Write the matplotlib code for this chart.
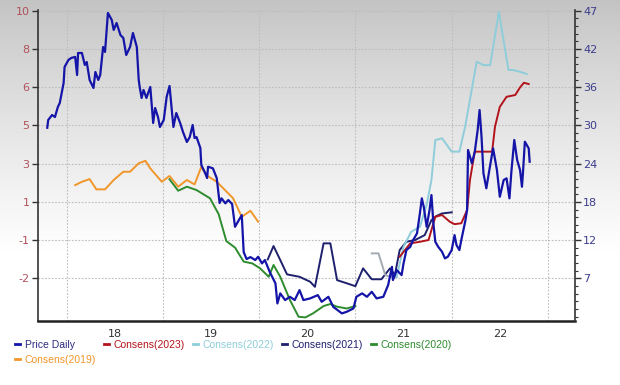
import numpy as np
import matplotlib
matplotlib.use("Agg")
import matplotlib.pyplot as plt
from matplotlib.lines import Line2D
from matplotlib.ticker import FixedLocator, AutoMinorLocator

# values (x in decimal years)
price_x = [2017.80, 2017.81, 2017.85, 2017.88, 2017.91, 2017.93, 2017.97, 2017.98, 2018.02, 2018.05,
           2018.09, 2018.11, 2018.12, 2018.16, 2018.19, 2018.21, 2018.24, 2018.28, 2018.30, 2018.33,
           2018.35, 2018.38, 2018.40, 2018.43, 2018.47, 2018.49, 2018.52, 2018.56, 2018.59, 2018.62,
           2018.66, 2018.69, 2018.73, 2018.75, 2018.76, 2018.78, 2018.80, 2018.83, 2018.87, 2018.90,
           2018.92, 2018.95, 2018.97, 2019.01, 2019.04, 2019.07, 2019.11, 2019.14, 2019.18, 2019.21,
           2019.25, 2019.28, 2019.31, 2019.33, 2019.35, 2019.39, 2019.40, 2019.44, 2019.46, 2019.47,
           2019.52, 2019.56, 2019.59, 2019.61, 2019.65, 2019.68, 2019.72, 2019.75, 2019.78, 2019.82,
           2019.84, 2019.87, 2019.91, 2019.96, 2019.99, 2020.03, 2020.06, 2020.11, 2020.17, 2020.19,
           2020.22, 2020.27, 2020.32, 2020.37, 2020.42, 2020.46, 2020.53, 2020.61, 2020.65, 2020.72,
           2020.77, 2020.86, 2020.91, 2020.98, 2021.01, 2021.07, 2021.12, 2021.17, 2021.22, 2021.29,
           2021.34, 2021.38, 2021.39, 2021.43, 2021.48, 2021.50, 2021.53, 2021.57, 2021.60, 2021.64,
           2021.67, 2021.69, 2021.71, 2021.74, 2021.77, 2021.79, 2021.81, 2021.83, 2021.86, 2021.90,
           2021.93, 2021.96, 2022.00, 2022.03, 2022.05, 2022.08, 2022.10, 2022.14, 2022.16, 2022.17,
           2022.21, 2022.24, 2022.27, 2022.29, 2022.31, 2022.33, 2022.36, 2022.40, 2022.43, 2022.47,
           2022.50, 2022.54, 2022.57, 2022.60, 2022.62, 2022.65, 2022.68, 2022.71, 2022.73, 2022.74,
           2022.76, 2022.80, 2022.81]
price_y = [29.51, 30.67, 31.41, 31.11, 32.61, 33.21, 36.20, 38.59, 39.64, 39.94,
           40.09, 37.39, 40.68, 40.68, 38.89, 39.34, 36.65, 35.45, 37.84, 36.65,
           37.39, 41.58, 40.83, 46.66, 45.61, 44.12, 45.16, 43.37, 42.92, 40.38,
           41.58, 43.67, 41.58, 36.65, 35.60, 33.96, 35.15, 33.96, 35.60, 30.22,
           32.46, 31.11, 29.62, 30.67, 34.11, 35.75, 29.62, 31.71, 30.22, 28.87,
           27.38, 28.12, 29.92, 27.97, 28.12, 26.48, 23.94, 22.74, 21.99, 23.68,
           23.45, 21.99, 18.26, 18.96, 18.21, 18.71, 18.11, 14.71, 15.46, 16.46,
           10.93, 9.89, 10.18, 9.74, 10.23, 9.24, 9.74, 7.99, 6.25, 3.26,
           4.76, 3.76, 4.25, 3.76, 5.25, 3.76, 4.01, 4.50, 3.50, 4.25,
           2.75, 1.77, 2.01, 2.51, 4.25, 4.76, 4.25, 5.00, 4.01, 4.25,
           6.00, 8.73, 6.75, 8.24, 7.49, 9.24, 11.23, 11.72, 12.73, 13.73,
           16.72, 18.96, 17.70, 14.71, 17.21, 19.45, 15.22, 12.47, 11.72, 10.98,
           9.99, 10.23, 11.23, 13.47, 11.98, 11.23, 12.73, 15.46, 17.21, 26.18,
           24.19, 25.93, 29.17, 32.16, 28.17, 22.70, 20.46, 23.94, 26.43, 23.19,
           19.20, 21.70, 21.95, 18.96, 22.94, 27.68, 24.69, 23.19, 20.69, 22.70,
           27.42, 26.43, 24.43]

c2023_x = [2021.46, 2021.57, 2021.67, 2021.76, 2021.79, 2021.83, 2021.90, 2021.98, 2022.03, 2022.10,
           2022.16, 2022.19, 2022.24, 2022.42, 2022.45, 2022.50, 2022.57, 2022.66, 2022.71, 2022.75,
           2022.80]
c2023_y = [-1.03, -0.43, -0.36, -0.28, 0.17, 0.76, 0.84, 0.54, 0.43, 0.47,
           1.06, 2.41, 3.68, 3.68, 4.80, 5.69, 6.14, 6.22, 6.56, 6.77,
           6.71]

c2022_early_x = [2021.17, 2021.24, 2021.31, 2021.36, 2021.43]
c2022_early_y = [-0.88, -0.88, -1.85, -1.93, -1.93]
c2022_x = [2021.43, 2021.50, 2021.58, 2021.67, 2021.74, 2021.79, 2021.83, 2021.90, 2022.00, 2022.08,
           2022.14, 2022.26, 2022.33, 2022.40, 2022.49, 2022.59, 2022.64, 2022.71, 2022.78]
c2022_y = [-1.93, -0.58, 0.09, 0.31, 1.29, 2.41, 4.20, 4.28, 3.68, 3.68,
           4.80, 7.71, 7.56, 7.56, 9.95, 7.34, 7.34, 7.26, 7.16]

c2021_x = [2020.09, 2020.15, 2020.22, 2020.29, 2020.42, 2020.53, 2020.58, 2020.67, 2020.74, 2020.81,
           2020.91, 2021.00, 2021.08, 2021.17, 2021.27, 2021.36, 2021.41, 2021.46, 2021.53, 2021.62,
           2021.72, 2021.79, 2021.84, 2021.90, 2022.00]
c2021_y = [-1.15, -0.55, -1.18, -1.82, -1.93, -2.15, -2.38, -0.43, -0.43, -2.08,
           -2.22, -2.35, -1.55, -2.04, -2.04, -1.55, -1.85, -0.73, -0.36, -0.28,
           -0.06, 0.61, 0.79, 0.91, 0.96]

c2020_x = [2019.07, 2019.16, 2019.25, 2019.35, 2019.49, 2019.58, 2019.66, 2019.75, 2019.84, 2019.93,
           2020.01, 2020.10, 2020.15, 2020.22, 2020.32, 2020.41, 2020.48, 2020.56, 2020.67, 2020.74,
           2020.81, 2020.91, 2021.00]
c2020_y = [2.44, 1.93, 2.11, 1.96, 1.59, 0.88, -0.33, -0.62, -1.25, -1.33,
           -1.55, -1.93, -1.40, -1.93, -2.97, -3.72, -3.75, -3.57, -3.24, -3.15,
           -3.27, -3.35, -3.24]

c2019_x = [2018.09, 2018.16, 2018.24, 2018.31, 2018.40, 2018.49, 2018.59, 2018.66, 2018.75, 2018.82,
           2018.87, 2018.99, 2019.07, 2019.16, 2019.25, 2019.33, 2019.40, 2019.45, 2019.56, 2019.73,
           2019.82, 2019.91, 2019.99]
c2019_y = [2.18, 2.33, 2.45, 1.99, 1.99, 2.41, 2.78, 2.78, 3.16, 3.27,
           2.93, 2.33, 2.59, 2.11, 2.41, 2.21, 3.00, 2.63, 2.33, 1.59,
           0.76, 1.03, 0.54]

left_ticks = np.linspace(-2, 10, 8)
left_labels = ['-2', '-1', '1', '3', '5', '6', '8', '10']
right_ticks = np.linspace(7, 47, 8)
right_labels = ['7', '12', '18', '24', '30', '36', '42', '47']
year_edges = [2018, 2019, 2020, 2021, 2022, 2023]
year_mids = [2018.5, 2019.5, 2020.5, 2021.5, 2022.5]
year_labels = ['18', '19', '20', '21', '22']

col_price = '#1414A8'
col_2023 = '#B3141C'
col_2022 = '#8ECDD9'
col_2022_early = '#A3AAB3'
col_2021 = '#1E206E'
col_2020 = '#2E8B2E'
col_2019 = '#F0962A'

fig = plt.figure(figsize=(6.2, 3.85), dpi=100)
fig.patch.set_facecolor('white')

# grey-to-white background gradient
bg = fig.add_axes([0, 0, 1, 1], zorder=-10)
rows = np.arange(385)
shade = 0.765 + 0.235 * np.clip(rows / 250.0, 0, 1) ** 0.85
img = np.repeat(shade[:, None], 620, axis=1)
bg.imshow(np.dstack([img, img, img]), aspect='auto', extent=[0, 1, 0, 1])
bg.axis('off')

ax = fig.add_axes([0.0613, 0.166, 0.866, 0.808], zorder=1)
ax.set_facecolor('none')
ax2 = ax.twinx()
ax2.set_facecolor('none')

ax.plot(c2019_x, c2019_y, color=col_2019, lw=1.4)
ax.plot(c2020_x, c2020_y, color=col_2020, lw=1.4)
ax.plot(c2021_x, c2021_y, color=col_2021, lw=1.4)
ax.plot(c2022_early_x, c2022_early_y, color=col_2022_early, lw=1.4)
ax.plot(c2022_x, c2022_y, color=col_2022, lw=1.4)
ax.plot(c2023_x, c2023_y, color=col_2023, lw=1.4)
ax2.plot(price_x, price_y, color=col_price, lw=1.6)

ax.set_xlim(2017.704, 2023.28)
ax.set_ylim(-3.915, 10.03)
ax2.set_ylim(0.62, 47.1)

ax.yaxis.set_major_locator(FixedLocator(left_ticks))
ax.set_yticklabels(left_labels)
ax2.yaxis.set_major_locator(FixedLocator(right_ticks))
ax2.set_yticklabels(right_labels)
ax2.yaxis.set_minor_locator(AutoMinorLocator(5))

ax.set_xticks(year_edges)
ax.set_xticklabels([])
ax.set_xticks(year_mids, minor=True)
ax.set_xticklabels(year_labels, minor=True)
ax.tick_params(axis='x', which='both', length=0, pad=6, labelsize=8, labelcolor='#333333')
ax.tick_params(axis='y', length=4, width=1, color='#333333', labelsize=8, labelcolor='#B0505A', pad=2)
ax2.tick_params(axis='y', which='major', length=4, width=1, color='#333333', labelsize=8,
                labelcolor='#3C3C8C', pad=2)
ax2.tick_params(axis='y', which='minor', length=2.5, width=0.8, color='#333333')

ax.grid(True, which='major', color='#BDBDBD', linestyle=(0, (1.5, 1.5)), lw=0.8)

for a in (ax, ax2):
    a.spines['top'].set_visible(False)
ax.spines['left'].set_color('#333333')
ax.spines['left'].set_linewidth(1.2)
ax.spines['bottom'].set_color('#222222')
ax.spines['bottom'].set_linewidth(1.8)
ax.spines['right'].set_visible(False)
ax2.spines['left'].set_visible(False)
ax2.spines['bottom'].set_visible(False)
ax2.spines['right'].set_color('#333333')
ax2.spines['right'].set_linewidth(1.2)

# legend: column-major fill, so order puts Consens(2019) under Price Daily
handles = [Line2D([], [], color=col_price, lw=2),
           Line2D([], [], color=col_2019, lw=2),
           Line2D([], [], color=col_2023, lw=2),
           Line2D([], [], color=col_2022, lw=2),
           Line2D([], [], color=col_2021, lw=2),
           Line2D([], [], color=col_2020, lw=2)]
labels = ['Price Daily', 'Consens(2019)', 'Consens(2023)', 'Consens(2022)', 'Consens(2021)', 'Consens(2020)']
leg = fig.legend(handles, labels, loc='upper left', bbox_to_anchor=(0.024, 0.117), ncol=5, frameon=False,
                 handlelength=0.5, handletextpad=0.45, columnspacing=0.75, labelspacing=0.45,
                 labelcolor='linecolor', prop={'family': 'Liberation Sans', 'size': 7.5},
                 borderaxespad=0, borderpad=0)
leg.get_texts()[0].set_color('#2A2A80')

fig.savefig('out.png', dpi=100)
